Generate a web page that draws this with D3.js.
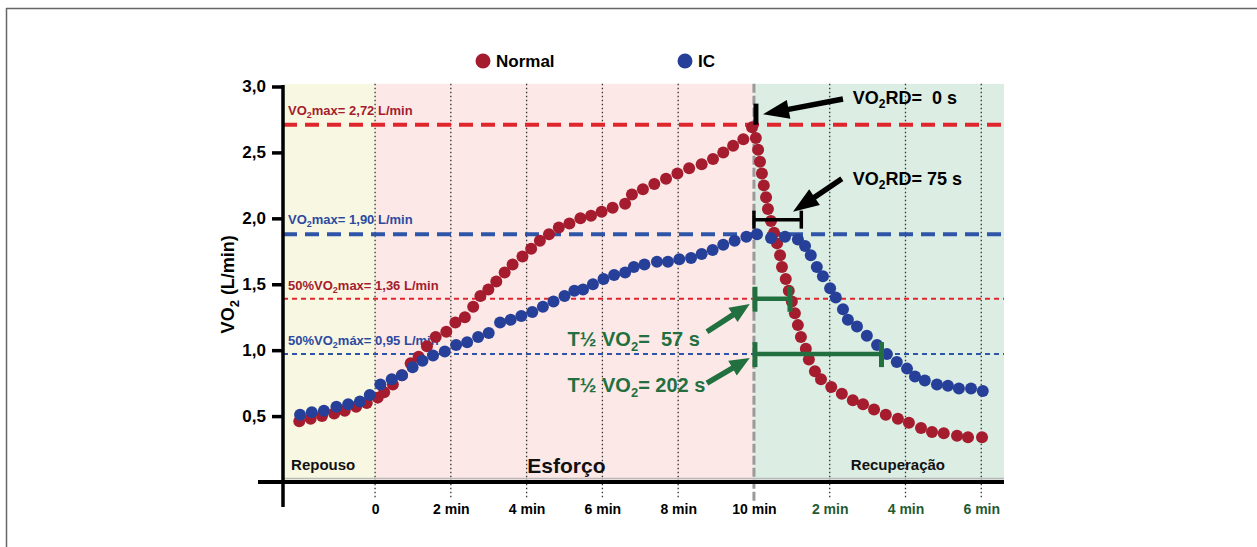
<!DOCTYPE html>
<html><head><meta charset="utf-8">
<script src="https://cdn.jsdelivr.net/npm/d3@7"></script>
<style>body{margin:0;background:#fff} svg{display:block}</style>
</head><body><svg id="c" width="1257" height="547"></svg>
<script>
// ---------- data ----------
const seriesNames = ["Normal", "IC"];
const seriesColors = ["#a51c2e", "#26409a"];
const yTicks = [0.5, 1.0, 1.5, 2.0, 2.5, 3.0];
const xTicks = [0, 2, 4, 6, 8, 10, 12, 14, 16];
const xTickLabels = ["0", "2 min", "4 min", "6 min", "8 min", "10 min", "2 min", "4 min", "6 min"];
const phaseNames = ["Repouso", "Esforço", "Recuperação"];
const phaseStart = [-2.43, 0, 10];
const phaseEnd = [0, 10, 16.6];
const phaseColors = ["#f8f8e2", "#fce9e7", "#dcede3"];
const refValues = [2.71, 1.88, 1.39, 0.97];
const refLabels = ["VO₂max= 2,72 L/min", "VO₂max= 1,90 L/min", "50%VO₂max= 1,36 L/min", "50%VO₂máx= 0,95 L/min"];

const normalTime = [-2.00,-1.70,-1.40,-1.08,-0.80,-0.50,-0.22,0.07,0.24,0.47,0.71,0.94,1.15,1.37,1.60,1.88,2.12,2.37,2.59,2.78,2.99,3.20,3.42,3.63,3.89,4.12,4.35,4.59,4.85,5.13,5.42,5.70,5.98,6.27,6.60,6.78,7.07,7.37,7.68,7.98,8.29,8.62,8.92,9.19,9.45,9.72,9.95,
  10.05,10.11,10.16,10.21,10.26,10.32,10.37,10.45,10.53,10.61,10.69,10.74,10.84,10.92,11.00,11.08,11.16,11.24,11.37,11.45,11.61,11.77,12.04,12.32,12.61,12.88,13.17,13.48,13.80,14.09,14.41,14.70,15.01,15.36,15.65,16.02];
const normalVO2 = [0.46,0.48,0.50,0.52,0.54,0.57,0.60,0.64,0.68,0.74,0.81,0.90,0.95,1.03,1.10,1.14,1.21,1.25,1.33,1.41,1.46,1.52,1.59,1.65,1.71,1.77,1.83,1.88,1.93,1.96,2.00,2.02,2.05,2.08,2.11,2.18,2.22,2.26,2.30,2.34,2.38,2.41,2.45,2.50,2.55,2.60,2.69,
  2.61,2.52,2.43,2.34,2.25,2.16,2.07,1.98,1.89,1.81,1.72,1.63,1.54,1.45,1.37,1.28,1.19,1.10,1.01,0.93,0.84,0.78,0.72,0.67,0.62,0.59,0.55,0.51,0.48,0.45,0.41,0.38,0.37,0.35,0.34,0.34];

const icTime = [-1.98,-1.67,-1.35,-1.02,-0.71,-0.40,-0.14,0.14,0.44,0.71,0.99,1.25,1.53,1.84,2.14,2.43,2.72,3.00,3.30,3.58,3.86,4.15,4.43,4.71,5.00,5.26,5.49,5.75,6.03,6.31,6.60,6.83,7.11,7.44,7.73,8.03,8.34,8.62,8.91,9.19,9.49,9.80,
  10.08,10.45,10.82,11.16,11.35,11.50,11.66,11.82,12.01,12.16,12.35,12.48,12.72,12.98,13.25,13.51,13.77,14.04,14.25,14.51,14.83,15.12,15.41,15.73,16.04];
const icVO2 = [0.51,0.53,0.54,0.57,0.59,0.61,0.66,0.74,0.78,0.81,0.87,0.92,0.96,0.99,1.04,1.06,1.10,1.13,1.21,1.23,1.26,1.29,1.33,1.37,1.41,1.45,1.46,1.50,1.54,1.57,1.59,1.63,1.65,1.67,1.67,1.69,1.70,1.73,1.76,1.80,1.83,1.86,
  1.88,1.85,1.86,1.84,1.79,1.72,1.63,1.56,1.47,1.40,1.31,1.23,1.18,1.11,1.04,0.97,0.91,0.86,0.80,0.77,0.74,0.73,0.71,0.71,0.69];

const rdLabels = ["VO₂RD=  0 s", "VO₂RD= 75 s"];
const rdSeconds = [0, 75];
const rdLevels = [2.80, 1.99];
const halfLabels = ["T½ VO₂=  57 s", "T½ VO₂= 202 s"];
const halfSeconds = [57, 202];
const halfLevels = [1.39, 0.97];

// ---------- setup ----------
const svg = d3.select("#c");
const W = 1257, H = 547;
const x = d3.scaleLinear().domain([-2.43, 16.6]).range([283, 1004]);
const y = d3.scaleLinear().domain([0, 3]).range([482, 86.5]);
const SANS = "'Liberation Sans', Arial, Helvetica, sans-serif";
const NARROW = "'Liberation Sans Narrow', 'Arial Narrow', 'Liberation Sans', sans-serif";
const GREEN = "#22703f";

function rich(sel, str, subSize) {
  const parts = str.split("₂");
  parts.forEach((p, i) => {
    if (i > 0) {
      sel.append("tspan").attr("font-size", subSize).attr("dy", subSize * 0.35).text("2");
      sel.append("tspan").attr("dy", -subSize * 0.35).text(p === "" ? "\u200B" : p);
    } else if (p !== "") sel.append("tspan").text(p);
  });
}
function arrowPts(tx, ty, px, py, w, L, Wh) {
  const dx = px - tx, dy = py - ty, len = Math.hypot(dx, dy);
  const ux = dx / len, uy = dy / len, nx = -uy, ny = ux;
  const bx = px - ux * L, by = py - uy * L;
  return [[tx + nx * w / 2, ty + ny * w / 2], [bx + nx * w / 2, by + ny * w / 2], [bx + nx * Wh / 2, by + ny * Wh / 2],
          [px, py], [bx - nx * Wh / 2, by - ny * Wh / 2], [bx - nx * w / 2, by - ny * w / 2], [tx - nx * w / 2, ty - ny * w / 2]]
    .map(p => p.join(",")).join(" ");
}

// frame
svg.append("line").attr("x1", 6).attr("x2", W).attr("y1", 8.5).attr("y2", 8.5).attr("stroke", "#666").attr("stroke-width", 1.5);
svg.append("line").attr("x1", 6.5).attr("x2", 6.5).attr("y1", 8).attr("y2", H).attr("stroke", "#666").attr("stroke-width", 1.5);

// phase backgrounds
svg.append("g").selectAll("rect").data(phaseNames).join("rect")
  .attr("x", (d, i) => x(phaseStart[i])).attr("width", (d, i) => x(phaseEnd[i]) - x(phaseStart[i]))
  .attr("y", y(3.02)).attr("height", y(0) - y(3.02)).attr("fill", (d, i) => phaseColors[i]);

// grid lines
const gridTop = y(3.02), gridBottom = y(0) + 16;
svg.append("g").selectAll("line").data(xTicks.filter(t => t !== 10)).join("line")
  .attr("x1", d => x(d)).attr("x2", d => x(d)).attr("y1", gridTop).attr("y2", gridBottom)
  .attr("stroke", "#333").attr("stroke-width", 1.3).attr("stroke-dasharray", "1.5,2.5");
svg.append("line").attr("x1", x(10)).attr("x2", x(10)).attr("y1", gridTop).attr("y2", gridBottom + 4)
  .attr("stroke", "#9a9a9a").attr("stroke-width", 3).attr("stroke-dasharray", "9,3");

// reference lines
const refStyle = [
  {c: "#e0262d", w: 4, d: "14,8"}, {c: "#2f55a8", w: 4, d: "14,8"},
  {c: "#e0262d", w: 2, d: "5,4"}, {c: "#2f55a8", w: 2, d: "5,4"}];
const refLabelColors = ["#a51c2e", "#2c4aa0", "#a51c2e", "#2c4aa0"];
svg.append("g").selectAll("line").data(refValues).join("line")
  .attr("x1", x(-2.43)).attr("x2", x(16.6)).attr("y1", d => y(d)).attr("y2", d => y(d))
  .attr("stroke", (d, i) => refStyle[i].c).attr("stroke-width", (d, i) => refStyle[i].w)
  .attr("stroke-dasharray", (d, i) => refStyle[i].d);
refLabels.forEach((lab, i) => {
  const t = svg.append("text").attr("x", x(-2.43) + 5).attr("y", y(refValues[i]) - (i < 2 ? 10 : 9))
    .attr("font-family", NARROW).attr("font-size", 13).attr("font-weight", "bold").attr("fill", refLabelColors[i]);
  rich(t, lab, 9);
});

// light gray line above axis
svg.append("line").attr("x1", x(-2.43)).attr("x2", x(16.6)).attr("y1", y(0) - 3.5).attr("y2", y(0) - 3.5)
  .attr("stroke", "#b8b8b8").attr("stroke-width", 1.5);

// series points
const normal = normalTime.map((t, i) => ({t, v: normalVO2[i]}));
const ic = icTime.map((t, i) => ({t, v: icVO2[i]}));
svg.append("g").selectAll("circle").data(normal).join("circle")
  .attr("cx", d => x(d.t)).attr("cy", d => y(d.v)).attr("r", 6).attr("fill", seriesColors[0]);
svg.append("g").selectAll("circle").data(ic).join("circle")
  .attr("cx", d => x(d.t)).attr("cy", d => y(d.v)).attr("r", 6).attr("fill", seriesColors[1]);

// axes
const yAxis = d3.axisLeft(y).tickValues(yTicks).tickSize(11).tickPadding(6)
  .tickFormat(d => d3.format(".1f")(d).replace(".", ","));
const gy = svg.append("g").attr("transform", `translate(${x(-2.43)},0)`).call(yAxis);
gy.select(".domain").remove();
gy.selectAll(".tick line").attr("stroke", "#000").attr("stroke-width", 3.5);
gy.selectAll(".tick text").attr("font-family", SANS).attr("font-weight", "bold").attr("font-size", 17).attr("fill", "#000");
svg.append("line").attr("x1", x(-2.43)).attr("x2", x(-2.43)).attr("y1", y(3) - 1.5).attr("y2", y(0) + 25)
  .attr("stroke", "#000").attr("stroke-width", 3.5);
svg.append("line").attr("x1", x(-2.43) - 25).attr("x2", x(16.6)).attr("y1", y(0)).attr("y2", y(0))
  .attr("stroke", "#000").attr("stroke-width", 4);

const xAxis = d3.axisBottom(x).tickValues(xTicks).tickSize(0).tickPadding(22)
  .tickFormat((d, i) => xTickLabels[i]);
const gx = svg.append("g").attr("transform", `translate(0,${y(0)})`).call(xAxis);
gx.select(".domain").remove();
gx.selectAll(".tick text").attr("font-family", SANS).attr("font-weight", "bold").attr("font-size", 14)
  .attr("fill", d => d > 10 ? "#1f5b33" : "#000");

// y label
const yl = svg.append("text").attr("transform", `translate(234,${y(1.5)}) rotate(-90)`).attr("text-anchor", "middle")
  .attr("font-family", SANS).attr("font-weight", "bold").attr("font-size", 18).attr("fill", "#000");
rich(yl, "VO₂ (L/min)", 13);

// phase labels
const phaseSizes = [15, 21, 15];
const phaseLabelX = [-1.37, 5.05, 13.8];
svg.append("g").selectAll("text").data(phaseNames).join("text")
  .attr("x", (d, i) => x(phaseLabelX[i]))
  .attr("y", (d, i) => y(0) - (i === 1 ? 9 : 12))
  .attr("text-anchor", "middle").attr("font-family", SANS).attr("font-weight", "bold")
  .attr("font-size", (d, i) => phaseSizes[i]).attr("fill", "#111").text(d => d);

// legend
const legX = [483, 685];
seriesNames.forEach((n, i) => {
  svg.append("circle").attr("cx", legX[i]).attr("cy", 61).attr("r", 7.5).attr("fill", seriesColors[i]);
  svg.append("text").attr("x", legX[i] + 13).attr("y", 67).attr("font-family", SANS).attr("font-weight", "bold")
    .attr("font-size", 17).attr("fill", "#000").text(n);
});

// VO2RD annotations
const ann = svg.append("g");
ann.append("line").attr("x1", x(10) + 2).attr("x2", x(10) + 2).attr("y1", y(2.87)).attr("y2", y(2.71))
  .attr("stroke", "#000").attr("stroke-width", 5);
const x75 = x(10 + rdSeconds[1] / 60);
ann.append("line").attr("x1", x(10)).attr("x2", x75).attr("y1", y(rdLevels[1])).attr("y2", y(rdLevels[1])).attr("stroke", "#000").attr("stroke-width", 3.5);
[x(10), x75].forEach(xx => ann.append("line").attr("x1", xx).attr("x2", xx).attr("y1", y(rdLevels[1]) - 9).attr("y2", y(rdLevels[1]) + 9).attr("stroke", "#000").attr("stroke-width", 3.5));
const blackArrows = [[12.35, 2.905, 10.24, 2.79], [12.32, 2.30, 11.03, 2.05]];
blackArrows.forEach(a => ann.append("polygon").attr("points", arrowPts(x(a[0]), y(a[1]), x(a[2]), y(a[3]), 5.5, 26, 19)).attr("fill", "#000"));
const rdTextPos = [[12.61, 2.865], [12.61, 2.255]];
rdLabels.forEach((lab, i) => {
  const t = ann.append("text").attr("x", x(rdTextPos[i][0])).attr("y", y(rdTextPos[i][1]))
    .attr("font-family", SANS).attr("font-weight", "bold").attr("font-size", 18).attr("fill", "#000")
    .style("white-space", "pre");
  rich(t, lab, 12);
});

// T1/2 annotations
halfSeconds.forEach((s, i) => {
  const xe = x(10 + s / 60), yl2 = y(halfLevels[i]);
  ann.append("line").attr("x1", x(10)).attr("x2", xe).attr("y1", yl2).attr("y2", yl2).attr("stroke", GREEN).attr("stroke-width", 4.5);
  ann.append("line").attr("x1", x(10) + 1).attr("x2", x(10) + 1).attr("y1", yl2 - 12).attr("y2", yl2 + 13).attr("stroke", GREEN).attr("stroke-width", 5);
  ann.append("line").attr("x1", xe).attr("x2", xe).attr("y1", yl2 - 12).attr("y2", yl2 + 13).attr("stroke", GREEN).attr("stroke-width", 5);
});
const greenArrows = [[8.76, 1.14, 9.89, 1.35], [8.76, 0.75, 9.89, 0.94]];
greenArrows.forEach(a => ann.append("polygon").attr("points", arrowPts(x(a[0]), y(a[1]), x(a[2]), y(a[3]), 5.5, 20, 17)).attr("fill", GREEN));
const halfTextPos = [[5.08, 1.03], [5.08, 0.68]];
halfLabels.forEach((lab, i) => {
  const t = ann.append("text").attr("x", x(halfTextPos[i][0])).attr("y", y(halfTextPos[i][1]))
    .attr("font-family", SANS).attr("font-weight", "bold").attr("font-size", 20).attr("fill", GREEN)
    .style("white-space", "pre");
  rich(t, lab, 13);
});
</script></body></html>
